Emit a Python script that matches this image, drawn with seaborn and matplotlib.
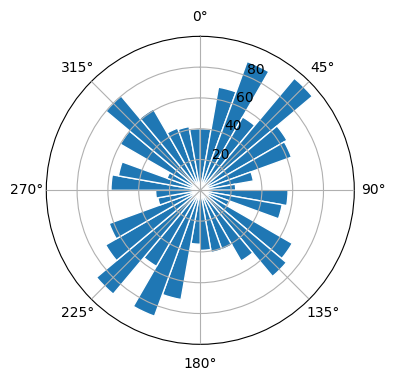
import numpy as np
import matplotlib
matplotlib.use("Agg")
import matplotlib.pyplot as plt
import seaborn as sns

# Bin starts (degrees, clockwise from north) and bar heights
bin_start_deg = list(range(0, 360, 10))
heights = [40, 68, 89, 55, 95, 65, 63, 35, 23,
           57, 54, 20, 69, 73, 53, 41, 41, 39,
           35, 72, 87, 57, 88, 71, 63, 28, 29,
           58, 54, 23, 60, 80, 61, 43, 42, 40]
r_ticks = [20, 40, 60, 80]

color = sns.color_palette("tab10")[0]

fig = plt.figure(figsize=(3.96, 3.80), dpi=100)
ax = fig.add_axes([0.1169, 0.0939, 0.7778, 0.8105], projection="polar")
ax.set_theta_zero_location("N")
ax.set_theta_direction(-1)

theta = np.deg2rad(bin_start_deg)
width = np.deg2rad(10)
ax.bar(theta, heights, width=width, align="edge", color=color,
       edgecolor="white", linewidth=1)
ax.set_ylim(0, 100)
ax.set_yticks(r_ticks)
ax.grid(True)
ax.set_axisbelow(False)

fig.savefig("out.png", dpi=100)
